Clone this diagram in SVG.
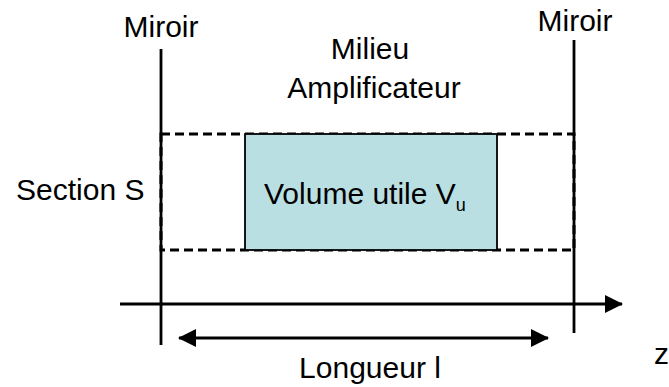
<svg xmlns="http://www.w3.org/2000/svg" width="669" height="387" viewBox="0 0 669 387">
<style>
text{font-family:"Liberation Sans",Arial,sans-serif;font-size:30px;fill:#000}
.ln{stroke:#000;stroke-width:2.8;fill:none}
.dash{stroke:#000;stroke-width:3;fill:none;stroke-dasharray:9,5}
</style>
<defs>
<marker id="ah" markerWidth="18" markerHeight="18" refX="17" refY="9" orient="auto-start-reverse" markerUnits="userSpaceOnUse">
<path d="M0,0 L18,9 L0,18 Z" fill="#000"/>
</marker>
</defs>
<rect width="669" height="387" fill="#fff"/>
<g id="section">
<rect class="dash" x="161" y="134" width="413" height="116"/>
<text x="16" y="200">Section S</text>
</g>
<g id="volume">
<rect x="245" y="134" width="252" height="116" fill="#badfe2" stroke="#000" stroke-width="1.8"/>
<text x="264" y="204">Volume utile V<tspan font-size="18" dy="7">u</tspan></text>
</g>
<g id="milieu">
<text x="370" y="59" text-anchor="middle">Milieu</text>
<text x="374" y="98" text-anchor="middle">Amplificateur</text>
</g>
<g id="miroir-gauche">
<line class="ln" x1="161" y1="49" x2="161" y2="345"/>
<text x="161" y="37" text-anchor="middle">Miroir</text>
</g>
<g id="miroir-droit">
<line class="ln" x1="574" y1="40" x2="574" y2="333"/>
<text x="575" y="31" text-anchor="middle">Miroir</text>
</g>
<g id="connectors">
<line class="ln" x1="120" y1="304" x2="622" y2="304" marker-end="url(#ah)"/>
<line class="ln" x1="179" y1="338" x2="548" y2="338" marker-start="url(#ah)" marker-end="url(#ah)"/>
</g>
<text x="654" y="364">z</text>
<text x="370" y="378" text-anchor="middle">Longueur l</text>
</svg>
